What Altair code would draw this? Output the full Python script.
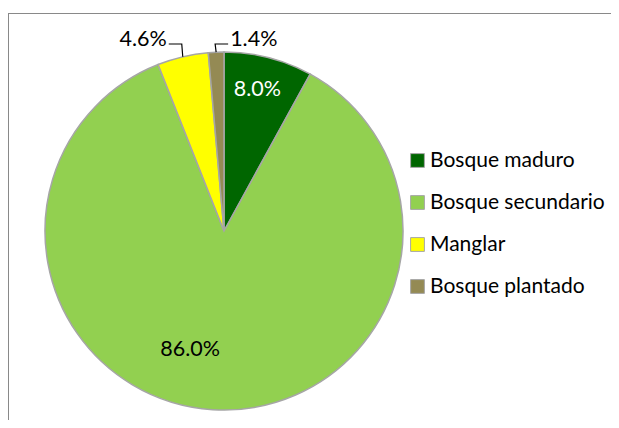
import math
import altair as alt
import pandas as pd

# ---- data ----
categories = ["Bosque maduro", "Bosque secundario", "Manglar", "Bosque plantado"]
values = [8.0, 86.0, 4.6, 1.4]
labels = ["8.0%", "86.0%", "4.6%", "1.4%"]
colors = ["#006600", "#92D050", "#FFFF00", "#948A54"]

# ---- geometry (view coordinates) ----
W, H = 603, 407
CX, CY, R = 216, 218, 179
FONT = "Lato"
FS = 21.5

df = pd.DataFrame({"cat": categories, "value": values, "label": labels, "idx": range(len(values))})
df["mid"] = df["value"].cumsum() - df["value"] / 2

theta_scale = alt.Scale(domain=[0, 100])

base = alt.Chart(df)

arc = base.mark_arc(outerRadius=R, stroke="#A6A6A6", strokeWidth=1.5).encode(
    theta=alt.Theta("value:Q", stack=True, scale=theta_scale),
    color=alt.Color(
        "cat:N",
        scale=alt.Scale(domain=categories, range=colors),
        sort=categories,
        legend=alt.Legend(
            title=None, orient="none", legendX=399, legendY=137,
            symbolType="square", symbolSize=190, symbolStrokeColor="#A6A6A6",
            symbolStrokeWidth=1, labelFontSize=21, labelFont=FONT, labelColor="#000000",
            labelLimit=400, rowPadding=20, labelOffset=2, padding=0,
        ),
    ),
    order=alt.Order("idx:Q"),
    x=alt.value(CX),
    y=alt.value(CY),
)

label_maduro = base.transform_filter(alt.datum.cat == categories[0]).mark_text(
    radius=146, dx=-3, font=FONT, fontSize=FS, color="white", align="center", baseline="middle"
).encode(
    theta=alt.Theta("mid:Q", stack=False, scale=theta_scale),
    text="label:N", x=alt.value(CX), y=alt.value(CY),
)

label_sec = base.transform_filter(alt.datum.cat == categories[1]).mark_text(
    radius=124, dx=-26, dy=-5, font=FONT, fontSize=FS, color="black", align="center", baseline="middle"
).encode(
    theta=alt.Theta("mid:Q", stack=False, scale=theta_scale),
    text="label:N", x=alt.value(CX), y=alt.value(CY),
)

# ---- leader lines for outside labels (computed from slice mid-angles) ----
elbow_y = CY - R - 8
rows = []
txt = []
for i in (2, 3):
    a = df.loc[i, "mid"] / 100 * 2 * math.pi
    px = CX + R * math.sin(a)
    py = CY - R * math.cos(a)
    direction = -1 if i == 2 else 1
    ex = px - 1
    endx = ex + direction * 13
    rows += [
        {"cat": categories[i], "step": 0, "x": px, "y": py},
        {"cat": categories[i], "step": 1, "x": ex, "y": elbow_y},
        {"cat": categories[i], "step": 2, "x": endx, "y": elbow_y},
    ]
    txt.append({"label": labels[i], "x": endx + direction * 2, "y": elbow_y - 4,
                "align": "right" if direction < 0 else "left"})
lines_df = pd.DataFrame(rows)
txt_df = pd.DataFrame(txt)

leaders = alt.Chart(lines_df).mark_line(color="#000000", strokeWidth=1.2).encode(
    x=alt.X("x:Q", scale=None), y=alt.Y("y:Q", scale=None),
    detail="cat:N", order="step:Q",
)

out_left = alt.Chart(txt_df).transform_filter(alt.datum.align == "right").mark_text(
    font=FONT, fontSize=FS, color="black", align="right", baseline="middle"
).encode(x=alt.X("x:Q", scale=None), y=alt.Y("y:Q", scale=None), text="label:N")

out_right = alt.Chart(txt_df).transform_filter(alt.datum.align == "left").mark_text(
    font=FONT, fontSize=FS, color="black", align="left", baseline="middle"
).encode(x=alt.X("x:Q", scale=None), y=alt.Y("y:Q", scale=None), text="label:N")

# ---- chart border (top and left edges) ----
border_top = alt.Chart(df).mark_rule(color="#898989", strokeWidth=1).encode(
    x=alt.value(0), x2=alt.value(W), y=alt.value(0.5)
)
border_left = alt.Chart(df).mark_rule(color="#898989", strokeWidth=1).encode(
    x=alt.value(0.5), y=alt.value(0), y2=alt.value(H)
)

chart = alt.layer(
    arc, label_maduro, label_sec, leaders, out_left, out_right, border_top, border_left
).properties(
    width=W, height=H, autosize="none",
    padding={"left": 0, "top": 5, "right": 0, "bottom": 0},
).configure_view(stroke=None)

chart.save("out.html", embed_options={"renderer": "svg", "actions": False})
